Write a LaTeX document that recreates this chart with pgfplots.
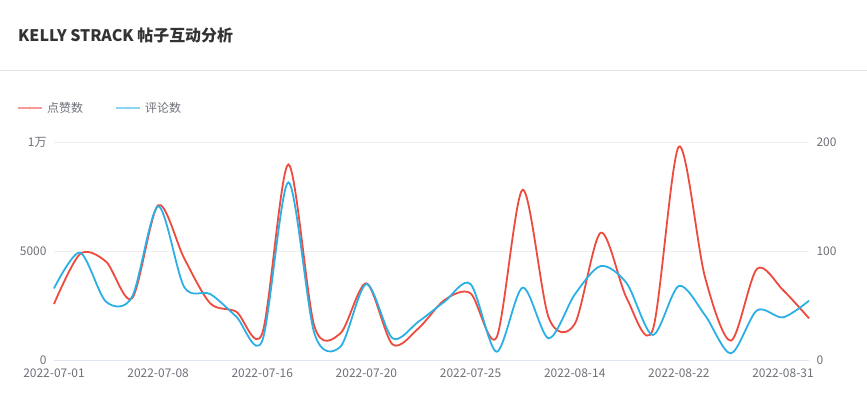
\documentclass[border=0pt]{standalone}
\usepackage{pgfplots}
\pgfplotsset{compat=1.18}
\usepackage{fontspec}
\setmainfont{Noto Sans CJK SC}
\definecolor{cred}{HTML}{EE4A3D}
\definecolor{cblue}{HTML}{2BB0E6}
\definecolor{ctick}{HTML}{6E7079}
\definecolor{ctitle}{HTML}{333333}
\definecolor{cgrid}{HTML}{EEEEEE}
\definecolor{csep}{HTML}{E3E3E3}
\definecolor{caxis}{HTML}{E0E6F1}
\pgfplotstableread{
i likes comments
0 2569 65.7
1 4862 98.5
2 4511 53.5
3 2830 58
4 7100 141
5 4664 67
6 2600 60.5
7 2217 39.8
8 1223 17.7
9 8970 163
10 1550 24.5
11 1223 12.2
12 3517 69.7
13 720 20
14 1453 35.2
15 2752 53.5
16 3058 69.7
17 1040 7.6
18 7810 66.4
19 1950 19.9
20 1650 60
21 5841 86.2
22 2829 70.3
23 1390 23
24 9786 67.9
25 3823 41.3
26 887 6.1
27 4180 45.5
28 3211 39.1
29 1911 54.4
}\datatable
\begin{document}
\begin{tikzpicture}[x=1bp,y=1bp]
\path[use as bounding box] (0,0) rectangle (867,394);
\node[anchor=west, inner sep=0pt, text=ctitle, font=\fontsize{16}{16}\selectfont\bfseries] at (18,359) {KELLY STRACK 帖子互动分析};
\draw[csep, line width=1bp] (0,324) -- (867,324);
\draw[cred!55, line width=2bp] (18,286) -- (42,286);
\fill[cred!55] (30,286) circle (1.6bp);
\node[anchor=west, inner sep=0pt, text=ctick, font=\fontsize{12}{12}\selectfont] at (47,286) {点赞数};
\draw[cblue!55, line width=2bp] (116,286) -- (140,286);
\fill[cblue!55] (128,286) circle (1.6bp);
\node[anchor=west, inner sep=0pt, text=ctick, font=\fontsize{12}{12}\selectfont] at (145,286) {评论数};
\begin{axis}[
  at={(54bp,34bp)}, anchor=south west,
  scale only axis, width=755bp, height=218bp,
  xmin=0, xmax=29, ymin=0, ymax=10000,
  axis line style={draw=none},
  major tick length=0pt,
  ytick={0,5000,10000}, yticklabels={0,5000,1万},
  scaled y ticks=false,
  xtick={0,4,8,12,16,20,24,28},
  xticklabels={2022-07-01,2022-07-08,2022-07-16,2022-07-20,2022-07-25,2022-08-14,2022-08-22,2022-08-31},
  ymajorgrids, grid style={cgrid, line width=0.8bp},
  ticklabel style={font=\fontsize{12}{12}\selectfont, text=ctick},
  /pgf/number format/assume math mode=true,
  yticklabel style={xshift=-4bp},
  xticklabel style={yshift=-5bp},
  clip=false,
]
\draw[caxis, line width=1bp] (axis cs:0,0) -- (axis cs:29,0);
\addplot[cred, line width=1.8bp, smooth, tension=0.5, no marks] table[x=i, y=likes] {\datatable};
\end{axis}
\begin{axis}[
  at={(54bp,34bp)}, anchor=south west,
  scale only axis, width=755bp, height=218bp,
  xmin=0, xmax=29, ymin=0, ymax=200,
  axis line style={draw=none},
  major tick length=0pt,
  xtick=\empty,
  axis y line*=right,
  ytick={0,100,200}, yticklabels={0,100,200},
  ticklabel style={font=\fontsize{12}{12}\selectfont, text=ctick},
  /pgf/number format/assume math mode=true,
  yticklabel style={xshift=4bp},
  clip=false,
]
\addplot[cblue, line width=1.8bp, smooth, tension=0.5, no marks] table[x=i, y=comments] {\datatable};
\end{axis}
\end{tikzpicture}
\end{document}
